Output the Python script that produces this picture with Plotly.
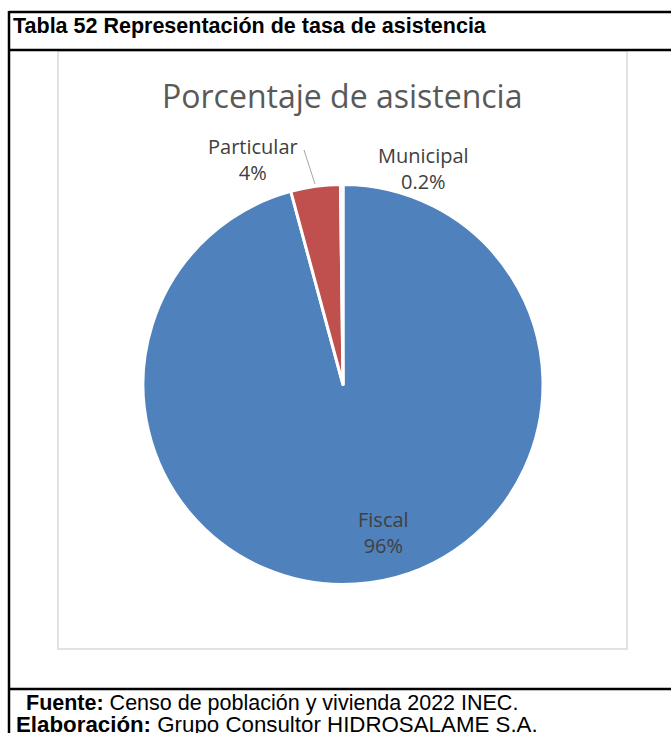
import plotly.graph_objects as go

W, H = 671, 733

categories = ["Fiscal", "Particular", "Municipal"]
values = [95.8, 4.0, 0.2]
value_labels = ["96%", "4%", "0.2%"]
colors = ["#4F81BD", "#C0504D", "#9BBB59"]

def px(x):
    return x / W

def py(y):
    return 1 - y / H

fig = go.Figure()

fig.add_trace(go.Pie(
    labels=categories,
    values=values,
    sort=False,
    direction="clockwise",
    rotation=0,
    marker=dict(colors=colors, line=dict(color="white", width=3)),
    textinfo="none",
    hoverinfo="label+percent",
    showlegend=False,
    domain=dict(x=[px(143), px(543)], y=[py(585), py(184)]),
))

label_font = dict(family="Open Sans, Noto Sans, sans-serif", size=20, color="#404040")
label_pos = {"Fiscal": (383, 532), "Particular": (253, 159), "Municipal": (423, 169)}
annotations = []
for cat, lab in zip(categories, value_labels):
    x, y = label_pos[cat]
    annotations.append(dict(
        x=px(x), y=py(y), xref="paper", yref="paper",
        text=f"{cat}<br>{lab}", showarrow=False, font=label_font,
        align="center", xanchor="center", yanchor="middle",
    ))

# Chart title
annotations.append(dict(
    x=px(342), y=py(96), xref="paper", yref="paper",
    text="Porcentaje de asistencia", showarrow=False,
    font=dict(family="Open Sans, Noto Sans, sans-serif", size=32, color="#595959"),
    xanchor="center", yanchor="middle",
))

# Table header
annotations.append(dict(
    x=px(11), y=py(26), xref="paper", yref="paper",
    text="<b>Tabla 52 Representación de tasa de asistencia</b>", showarrow=False,
    font=dict(family="Liberation Sans, Arial, sans-serif", size=21.5, color="black"),
    xanchor="left", yanchor="middle",
))

# Footer
annotations.append(dict(
    x=px(24), y=py(703), xref="paper", yref="paper",
    text="<b>Fuente:</b> Censo de población y vivienda 2022 INEC.", showarrow=False,
    font=dict(family="Liberation Sans, Arial, sans-serif", size=21.5, color="black"),
    xanchor="left", yanchor="middle",
))
annotations.append(dict(
    x=px(14), y=py(724), xref="paper", yref="paper",
    text="<b>Elaboración:</b> Grupo Consultor HIDROSALAME S.A.", showarrow=False,
    font=dict(family="Liberation Sans, Arial, sans-serif", size=22.3, color="black"),
    xanchor="left", yanchor="middle",
))

shapes = [
    # outer frame lines
    dict(type="line", xref="paper", yref="paper", x0=px(9), x1=1, y0=py(12), y1=py(12),
         line=dict(color="black", width=2.5)),
    dict(type="line", xref="paper", yref="paper", x0=px(9), x1=1, y0=py(50), y1=py(50),
         line=dict(color="black", width=2.5)),
    dict(type="line", xref="paper", yref="paper", x0=px(9), x1=1, y0=py(689), y1=py(689),
         line=dict(color="black", width=2.5)),
    dict(type="line", xref="paper", yref="paper", x0=px(9), x1=px(9), y0=py(11), y1=0,
         line=dict(color="black", width=2.5)),
    # chart area border
    dict(type="rect", xref="paper", yref="paper", x0=px(58), x1=px(627), y0=py(649), y1=py(51),
         line=dict(color="#D9D9D9", width=1.5), layer="below"),
    # leader line for Particular
    dict(type="line", xref="paper", yref="paper", x0=px(304), x1=px(315), y0=py(150), y1=py(184),
         line=dict(color="#A6A6A6", width=1)),
]

fig.update_layout(
    width=W, height=H,
    margin=dict(l=0, r=0, t=0, b=0),
    paper_bgcolor="white", plot_bgcolor="white",
    annotations=annotations, shapes=shapes,
)

fig.write_html("out.html", config={"displayModeBar": False},
               post_script="document.body.style.margin='0px';")
